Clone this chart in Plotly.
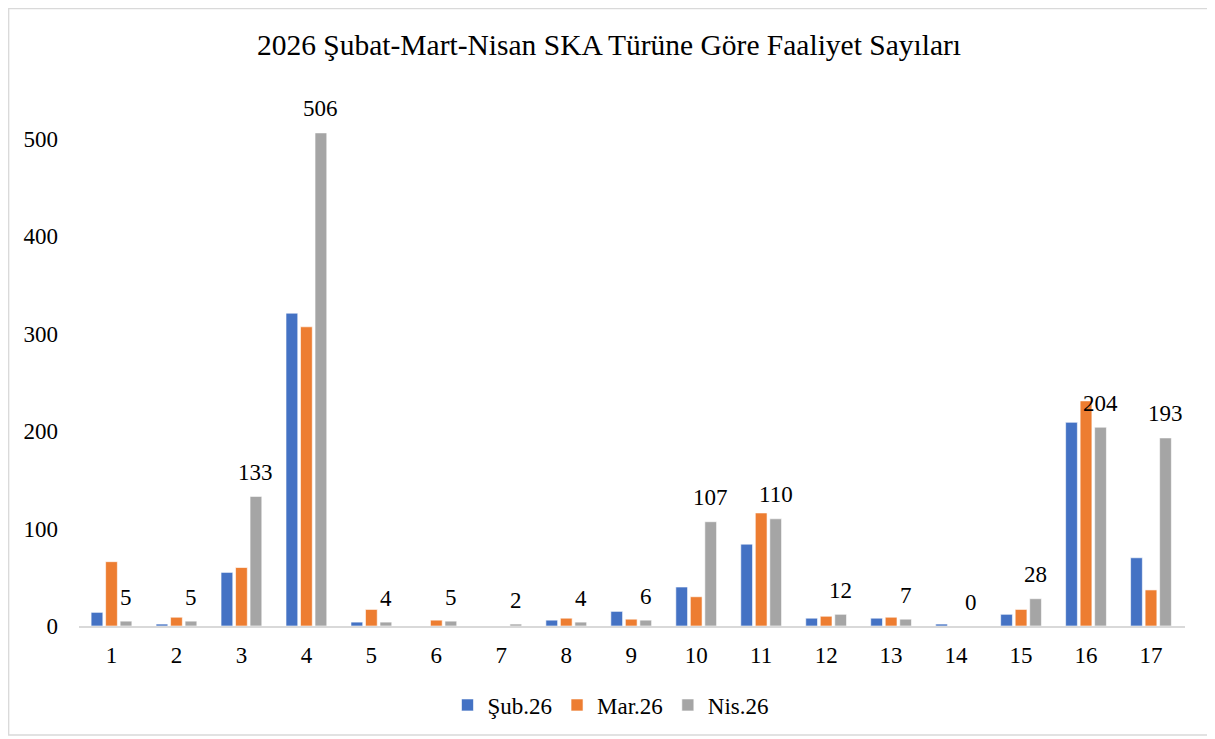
import plotly.graph_objects as go

categories = [str(i) for i in range(1, 18)]
sub26 = [14, 2, 55, 321, 4, 0, 0, 6, 15, 40, 84, 8, 8, 2, 12, 209, 70]
mar26 = [66, 9, 60, 307, 17, 6, 0, 8, 7, 30, 116, 10, 9, 0, 17, 231, 37]
nis26 = [5, 5, 133, 506, 4, 5, 2, 4, 6, 107, 110, 12, 7, 0, 28, 204, 193]
series_names = ["Şub.26", "Mar.26", "Nis.26"]
colors = ["#4472C4", "#ED7D31", "#A5A5A5"]

FONT = "Liberation Serif"
OFF = 8  # page body margin
W, H = 1215 - OFF, 739 - OFF
ML, MR, MT, MB = 79 - OFF, 30, 90 - OFF, 113
BARGAP = 0.33

fig = go.Figure()
for name, vals, col in zip(series_names, [sub26, mar26, nis26], colors):
    fig.add_trace(go.Bar(
        x=categories, y=vals, name=name,
        marker=dict(color=col, line=dict(color="white", width=0.6)),
        hoverinfo="x+y+name",
    ))

# data labels for Nis.26 (third bar in each group)
offset = (1 - BARGAP) / 3.0
for i, v in enumerate(nis26):
    fig.add_annotation(
        x=i + offset, y=v, xref="x", yref="y",
        text=str(v), showarrow=False, yshift=24,
        font=dict(family=FONT, size=23, color="#000000"),
        yanchor="middle", xanchor="center",
    )

pw = W - ML - MR
ph = H - MT - MB
# outer chart border
fig.add_shape(
    type="rect", xref="paper", yref="paper",
    x0=(0.7 - ML) / pw, x1=(1211 - OFF - ML) / pw,
    y0=(H - MB - (735 - OFF)) / ph, y1=(H - MB - 0.7) / ph,
    line=dict(color="#D9D9D9", width=1.3), fillcolor="rgba(0,0,0,0)", layer="below",
)

fig.update_layout(
    width=W, height=H,
    margin=dict(l=ML, r=MR, t=MT, b=MB, autoexpand=False),
    paper_bgcolor="white", plot_bgcolor="white",
    barmode="group", bargap=BARGAP, bargroupgap=0.19,
    title=dict(
        text="2026 Şubat-Mart-Nisan SKA Türüne Göre Faaliyet Sayıları",
        x=(609 - OFF) / W, xref="container", xanchor="center",
        y=1 - (45 - OFF) / H, yref="container", yanchor="middle",
        font=dict(family=FONT, size=29.5, color="#000000"),
    ),
    font=dict(family=FONT, size=23, color="#000000"),
    legend=dict(
        orientation="h", x=0.481, xanchor="center",
        y=(626 - 705) / ph, yanchor="middle",
        font=dict(family=FONT, size=23, color="#000000"),
        traceorder="normal", itemwidth=30,
    ),
    xaxis=dict(
        type="category", showline=True, linecolor="#D9D9D9", linewidth=1.5,
        showgrid=False, ticks="", ticklabelstandoff=8,
        tickfont=dict(family=FONT, size=23, color="#000000"),
    ),
    yaxis=dict(
        range=[0, 550], tickvals=[0, 100, 200, 300, 400, 500],
        showline=False, showgrid=False, zeroline=False, ticks="",
        ticklabelstandoff=20,
        tickfont=dict(family=FONT, size=23, color="#000000"),
    ),
)

fig.write_html("out.html")
